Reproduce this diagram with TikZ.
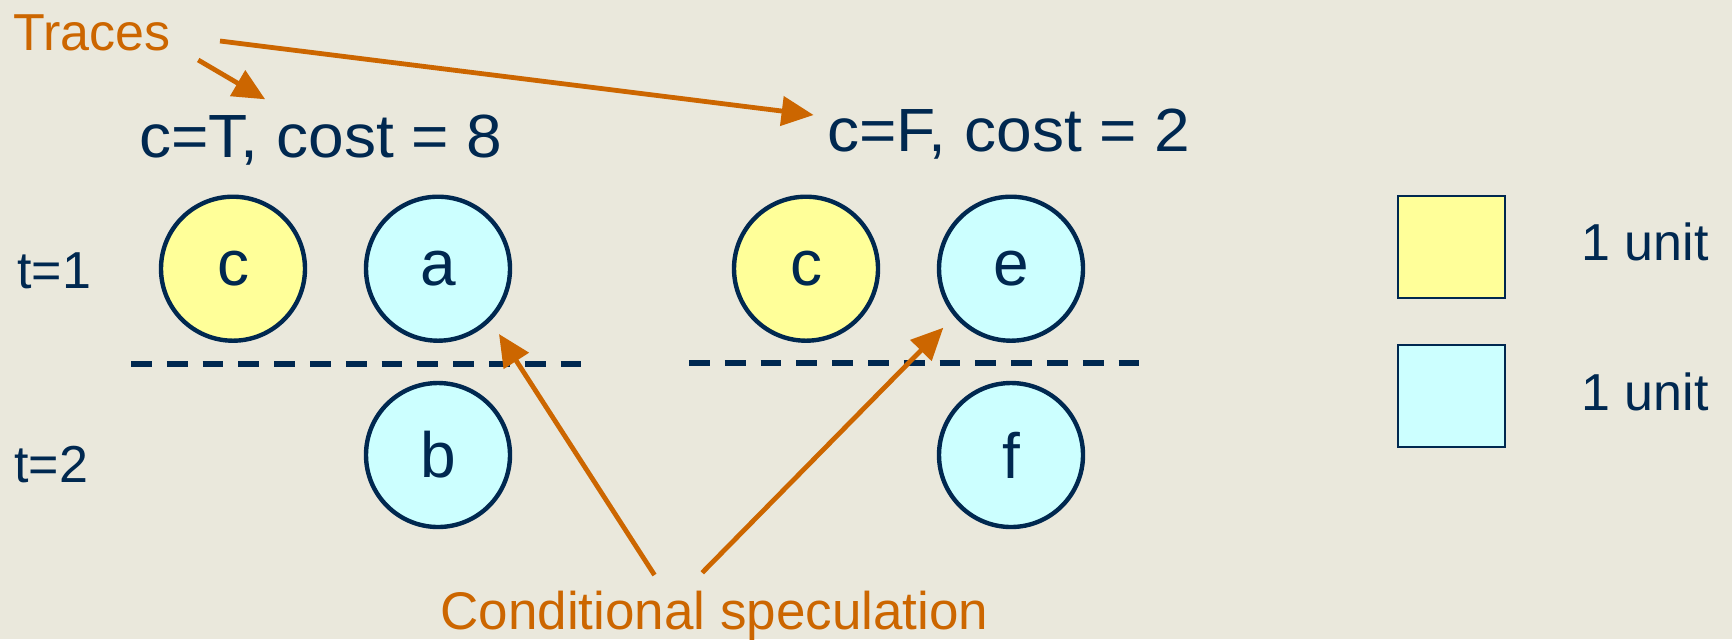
\documentclass[tikz,border=0pt]{standalone}
\usepackage{fontspec}
\setmainfont{Liberation Sans}
\usetikzlibrary{arrows.meta}
\definecolor{navy}{RGB}{0,40,80}
\definecolor{orng}{RGB}{204,102,0}
\definecolor{yfill}{RGB}{255,255,153}
\definecolor{cfill}{RGB}{204,255,255}
\definecolor{bg}{RGB}{234,232,220}
\begin{document}
\begin{tikzpicture}[x=0.5pt,y=-0.5pt,
  txt/.style={text=navy, inner sep=0, anchor=base west},
  otxt/.style={text=orng, inner sep=0, anchor=base west},
  circ/.style={circle, draw=navy, line width=2.2pt, minimum size=72pt, inner sep=0,
    font=\fontsize{32}{38}\selectfont, text=navy},
  ycirc/.style={circ, fill=yfill},
  ccirc/.style={circ, fill=cfill},
  sq/.style={draw=navy, line width=1pt},
  arr/.style={draw=orng, line width=2.4pt, -{Triangle[length=16pt,width=14.5pt]}},
  sepline/.style={draw=navy, line width=2.8pt, dash pattern=on 10.35pt off 7.55pt}]
\fill[bg] (0,0) rectangle (1732,639);
\useasboundingbox (0,0) rectangle (1732,639);

% texts
\node[otxt, font=\fontsize{26}{31}\selectfont] (traces) at (13,50) {Traces};
\node[txt, font=\fontsize{30.5}{36}\selectfont] (lt) at (139,157) {\scalebox{1.05}[1]{c=T, cost = 8}};
\node[txt, font=\fontsize{30.5}{36}\selectfont] (rt) at (827,151) {\scalebox{1.05}[1]{c=F, cost = 2}};
\node[txt, font=\fontsize{26}{31}\selectfont] (t1) at (17,288) {t=1};
\node[txt, font=\fontsize{26}{31}\selectfont] (t2) at (14,482) {t=2};
\node[otxt, font=\fontsize{26.5}{32}\selectfont] (cs) at (440,629) {Conditional speculation};

% circles
\node[ycirc] (c1) at (233,268.7) {c};
\node[ccirc] (a) at (438,268.7) {a};
\node[ccirc] (b) at (438,455) {b};
\node[ycirc] (c2) at (806,268.7) {c};
\node[ccirc] (e) at (1011,268.7) {e};
\node[ccirc] (f) at (1011,455) {f};

% separators
\coordinate (s1a) at (131,363.7);
\coordinate (s1b) at (582,363.7);
\coordinate (s2a) at (689,362.7);
\coordinate (s2b) at (1140,362.7);
\draw[sepline] (s1a) -- (s1b);
\draw[sepline] (s2a) -- (s2b);

% legend
\node[sq, fill=yfill, minimum width=53.2pt, minimum height=51pt, inner sep=0] (ly) at (1451.5,247) {};
\node[sq, fill=cfill, minimum width=53.2pt, minimum height=51pt, inner sep=0] (lc) at (1451.5,396) {};
\node[txt, font=\fontsize{26}{31}\selectfont] (u1) at (1581,260.5) {1 unit};
\node[txt, font=\fontsize{26}{31}\selectfont] (u2) at (1581,410) {1 unit};

% arrows
\coordinate (tA) at (198.2,60);
\coordinate (tAe) at (265.2,99.3);
\coordinate (tB) at (220,41);
\coordinate (tBe) at (813.6,115);
\coordinate (cA) at (654.5,575);
\coordinate (cAe) at (499,334);
\coordinate (cB) at (702.2,572.7);
\coordinate (cBe) at (943.3,327.7);
\draw[arr] (tA) -- (tAe);
\draw[arr] (tB) -- (tBe);
\draw[arr] (cA) -- (cAe);
\draw[arr] (cB) -- (cBe);
\end{tikzpicture}
\end{document}
